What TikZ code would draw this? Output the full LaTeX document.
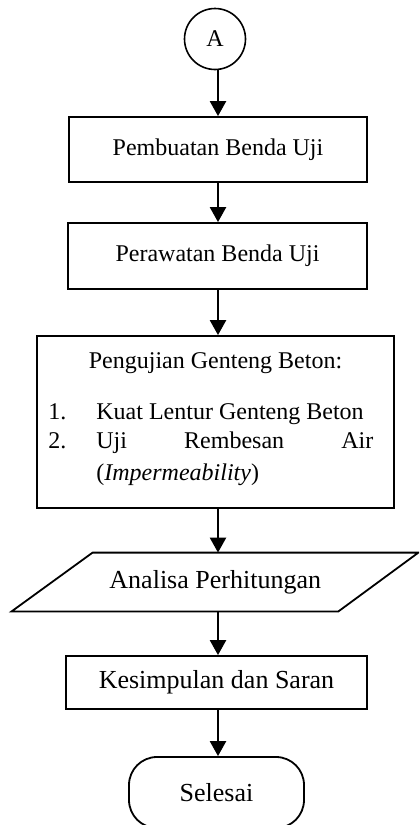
\documentclass[tikz,border=0pt]{standalone}
\usepackage{fontspec}
\setmainfont{Liberation Serif}
\usetikzlibrary{arrows.meta,calc}
\begin{document}
\begin{tikzpicture}[x=0.5pt,y=-0.5pt,
  font=\fontsize{12}{14}\selectfont,
  box/.style={draw,line width=0.9pt,inner sep=0pt,align=center},
  arr/.style={line width=1.2pt,-{Triangle[width=8pt,length=7.5pt]}},
  txt/.style={inner sep=0pt}]
\useasboundingbox (0,0) rectangle (419,825);
\clip (0,0) rectangle (419,825);
\coordinate (ax) at (218,0);
\node[draw,circle,line width=0.8pt,minimum size=30.5pt,inner sep=0pt] (A) at (215,39) {A};
\node[box,minimum width=149pt,minimum height=32.5pt] (b1) at (218,149.5) {Pembuatan Benda Uji};
\node[box,minimum width=149.5pt,minimum height=33pt] (b2) at (217.5,256) {Perawatan Benda Uji};
\node[box,minimum width=178.5pt,minimum height=86pt] (b3) at (215.5,422) {};
\node[txt,anchor=base] (h3) at (215.5,368) {Pengujian Genteng Beton:};
\node[txt,anchor=base west] (n1) at (48,419) {1.};
\node[txt,anchor=base west] (i1) at (96,419) {Kuat Lentur Genteng Beton};
\node[txt,anchor=base west] (n2) at (48,448) {2.};
\node[txt,anchor=base west] (i2) at (96,448) {\makebox[138.5pt][s]{Uji\hfill Rembesan\hfill Air}};
\node[txt,anchor=base west] (i3) at (96,480) {(\textit{Impermeability})};
\node[inner sep=0pt,minimum width=162.75pt,minimum height=29pt,font=\fontsize{13}{15}\selectfont] (an) at (215.25,582) {Analisa Perhitungan};
\draw[line width=0.9pt] ($(an.north west)+(40.5,0)$) -- ($(an.north east)+(40,0)$) -- ($(an.south east)+(-40,0)$) -- ($(an.south west)+(-40.5,0)$) -- cycle;
\node[box,minimum width=150.5pt,minimum height=26.5pt,font=\fontsize{13}{15}\selectfont] (ks) at (216.5,682.5) {Kesimpulan dan Saran};
\node[box,rounded corners=14pt,minimum width=87.5pt,minimum height=35.5pt,font=\fontsize{13}{15}\selectfont] (sl) at (216.5,792.5) {Selesai};
\draw[arr] (A.south -| ax) -- (b1.north -| ax);
\draw[arr] (b1.south -| ax) -- (b2.north -| ax);
\draw[arr] (b2.south -| ax) -- (b3.north -| ax);
\draw[arr] (b3.south -| ax) -- (an.north -| ax);
\draw[arr] (an.south -| ax) -- (ks.north -| ax);
\draw[arr] (ks.south -| ax) -- (sl.north -| ax);
\end{tikzpicture}
\end{document}
